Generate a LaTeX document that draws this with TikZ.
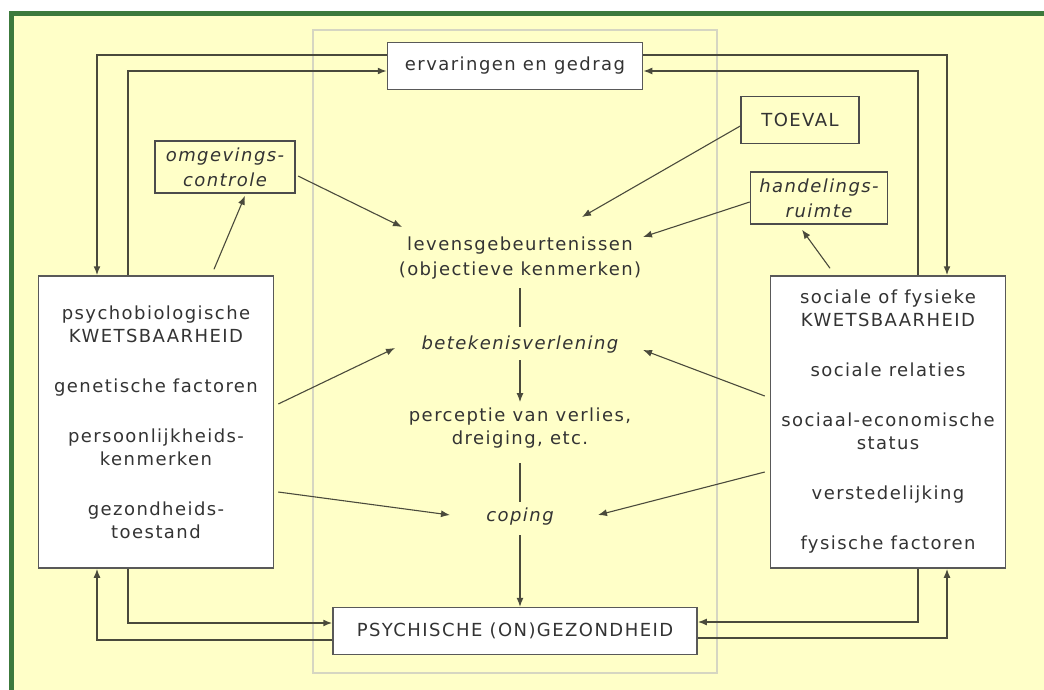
\documentclass[tikz,border=0pt]{standalone}
\usepackage{fontspec}
\setmainfont{DejaVu Sans}[LetterSpace=8]
\usepackage{xcolor}
\usetikzlibrary{arrows.meta,positioning,calc}
\definecolor{geel}{HTML}{FFFFC8}
\definecolor{groen}{HTML}{3C7A3C}
\definecolor{lijnkleur}{HTML}{4A4A3C}
\definecolor{kaderkleur}{HTML}{D6D6C2}
\definecolor{inkt}{HTML}{333333}

\begin{document}
\begin{tikzpicture}[x=1pt, y=-1pt,
    every node/.style={font=\fontsize{18}{23}\selectfont, text=inkt, inner sep=0pt},
    blok/.style={draw=gray!70!black, line width=1.5pt, fill=white},
    geelblok/.style={draw=gray!60!black, line width=1.5pt, fill=geel},
    schuin/.style={font=\fontsize{18}{25}\selectfont\itshape},
    lus/.style={draw=lijnkleur, line width=1.6pt, -{Latex[length=9pt,width=7pt]}},
    pijl/.style={draw=lijnkleur, line width=1.1pt, -{Latex[length=9pt,width=7pt]}},
    streep/.style={draw=lijnkleur, line width=1.1pt}]
    \useasboundingbox (0,0) rectangle (1044,690);
    \fill[white] (0,0) rectangle (1044,690);
    \fill[geel] (11,14) rectangle (1044,690);
    \draw[groen, line width=5pt] (11,690) -- (11,14) -- (1044,14);
    \draw[kaderkleur, line width=2pt] (313,30) rectangle (717,673);

    \node (erv) [blok, minimum width=255pt, minimum height=47pt] at (515,66) {ervaringen en gedrag};
    \node (toeval) [geelblok, minimum width=118pt, minimum height=47pt] at (800,120) {TOEVAL};
    \node (hand) [geelblok, schuin, align=center, minimum width=137pt, minimum height=52pt] at (819,198) {handelings-\\ruimte};
    \node (omg) [geelblok, schuin, align=center, minimum width=140pt, minimum height=52pt] at (225,167) {omgevings-\\controle};
    \node (links) [blok, align=center, minimum width=235pt, minimum height=292pt] at (156,422)
        {psychobiologische\\KWETSBAARHEID\\[27pt]genetische factoren\\[27pt]persoonlijkheids-\\kenmerken\\[27pt]gezondheids-\\toestand};
    \node (rechts) [blok, align=center, minimum width=235pt, minimum height=292pt] at (888,422)
        {sociale of fysieke\\KWETSBAARHEID\\[27pt]sociale relaties\\[27pt]sociaal-economische\\status\\[27pt]verstedelijking\\[27pt]fysische factoren};
    \node (psych) [blok, minimum width=364pt, minimum height=47pt] at (515,631) {PSYCHISCHE (ON)GEZONDHEID};
    \node (leven) [align=center, font=\fontsize{18}{25}\selectfont] at (520,258) {levensgebeurtenissen\\(objectieve kenmerken)};
    \node (betek) [schuin] at (520,345) {betekenisverlening};
    \node (percep) [align=center] at (520,428) {perceptie van verlies,\\dreiging, etc.};
    \node (coping) [schuin] at (520,517) {coping};

    % lussen tussen de blokken
    \draw[lus] ([yshift=11pt]erv.west) -| ([xshift=-59pt]links.north);
    \draw[lus] ([xshift=-28pt]links.north) |- ([yshift=-5pt]erv.west);
    \draw[lus] ([yshift=11pt]erv.east) -| ([xshift=59pt]rechts.north);
    \draw[lus] ([xshift=30pt]rechts.north) |- ([yshift=-5pt]erv.east);
    \draw[lus] ([xshift=-28pt]links.south) |- ([yshift=8pt]psych.west);
    \draw[lus] ([yshift=-9pt]psych.west) -| ([xshift=-59pt]links.south);
    \draw[lus] ([xshift=30pt]rechts.south) |- ([yshift=9pt]psych.east);
    \draw[lus] ([yshift=-7pt]psych.east) -| ([xshift=59pt]rechts.south);

    % invloeden
    \draw[pijl] ([xshift=73pt,yshift=-9pt]omg.center) -- ([xshift=-118pt,yshift=31pt]leven.center);
    \draw[pijl] ([yshift=-6pt]toeval.west) -- ([xshift=62pt,yshift=41pt]leven.center);
    \draw[pijl] ([yshift=-4pt]hand.west) -- ([xshift=123pt,yshift=21pt]leven.center);
    \draw[pijl] ([xshift=58pt,yshift=6pt]links.north) -- ([xshift=20pt,yshift=-2pt]omg.south);
    \draw[pijl] ([xshift=-58pt,yshift=7pt]rechts.north) -- ([xshift=-17pt,yshift=-5pt]hand.south);
    \draw[pijl] ([xshift=4pt,yshift=18pt]links.east) -- ([xshift=-125pt,yshift=-3pt]betek.center);
    \draw[pijl] ([xshift=-5pt,yshift=26pt]rechts.west) -- ([xshift=123pt,yshift=-5pt]betek.center);
    \draw[pijl] ([xshift=4pt,yshift=-70pt]links.east) -- ([xshift=-70pt,yshift=2pt]coping.center);
    \draw[pijl] ([xshift=-5pt,yshift=-50pt]rechts.west) -- ([xshift=78pt,yshift=2pt]coping.center);

    % middenkolom
    \draw[streep] ([yshift=-30pt]leven.center) -- ([yshift=18pt]betek.center);
    \draw[pijl] ([yshift=-15pt]betek.center) -- ([yshift=26pt]percep.center);
    \draw[streep] ([yshift=-35pt]percep.center) -- ([yshift=15pt]coping.center);
    \draw[pijl] ([yshift=-18pt]coping.center) -- ([xshift=5pt]psych.north);
\end{tikzpicture}
\end{document}
